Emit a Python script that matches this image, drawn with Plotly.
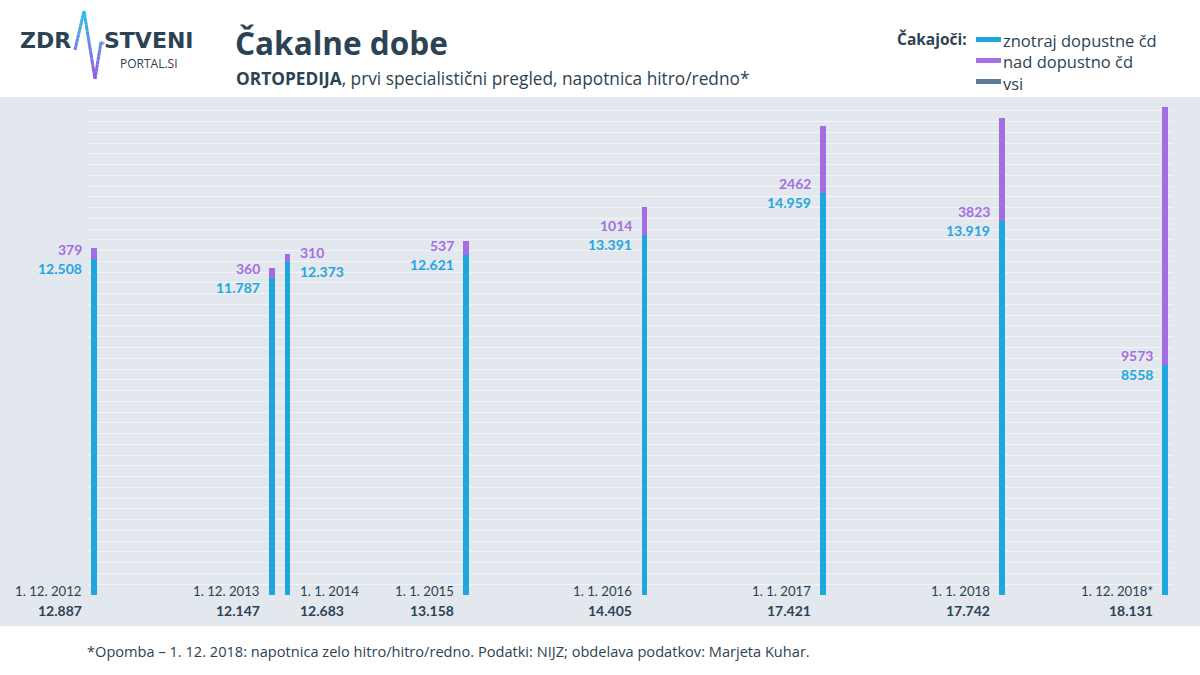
import plotly.graph_objects as go

# ---- data ----
dates = ["2012-12-01", "2013-12-01", "2014-01-01", "2015-01-01",
         "2016-01-01", "2017-01-01", "2018-01-01", "2018-12-01"]
date_labels = ["1. 12. 2012", "1. 12. 2013", "1. 1. 2014", "1. 1. 2015",
               "1. 1. 2016", "1. 1. 2017", "1. 1. 2018", "1. 12. 2018*"]
within = [12508, 11787, 12373, 12621, 13391, 14959, 13919, 8558]
over = [379, 360, 310, 537, 1014, 2462, 3823, 9573]
label_right = [False, False, True, False, False, False, False, False]
legend_names = ["znotraj dopustne čd", "nad dopustno čd", "vsi"]

CYAN = "#1fa6de"
PURPLE = "#a56de2"
VSI = "#5b7b98"
DARK = "#2c4354"
BAND = "#e3e8ee"
GRID = "#f2f4f7"
FONT = "Lato"
HFONT = "Open Sans"
LFONT = "DejaVu Sans"

# plot area in pixels
L, R, T, B = 88, 1173, 100, 595
W, H = 1200, 675


def px(x):
    return (x - L) / (R - L)


def py(y):
    return (B - y) / (B - T)


def fmt(v):
    s = str(v)
    if v >= 10000:
        s = s[:-3] + "." + s[-3:]
    return s


totals = [a + b for a, b in zip(within, over)]

fig = go.Figure()
bar_w = 12 * 86400000
fig.add_trace(go.Bar(x=dates, y=within, marker_color=CYAN, width=bar_w,
                     marker_line_width=0, name=legend_names[0], showlegend=False))
fig.add_trace(go.Bar(x=dates, y=over, marker_color=PURPLE, width=bar_w,
                     marker_line_width=0, name=legend_names[1], showlegend=False))

ann = []
for d, dl, w, o, t, right in zip(dates, date_labels, within, over, totals, label_right):
    xa = "left" if right else "right"
    xs = 11 if right else -11
    ann.append(dict(x=d, y=w, xref="x", yref="y", text=f"<b>{fmt(o)}</b>",
                    xanchor=xa, yanchor="bottom", xshift=xs, yshift=0, borderpad=0,
                    showarrow=False, font=dict(family=FONT, size=14, color=PURPLE)))
    ann.append(dict(x=d, y=w, xref="x", yref="y", text=f"<b>{fmt(w)}</b>",
                    xanchor=xa, yanchor="top", xshift=xs, yshift=0, borderpad=0,
                    showarrow=False, font=dict(family=FONT, size=14, color=CYAN)))
    ann.append(dict(x=d, y=0, xref="x", yref="y", text=dl,
                    xanchor=xa, yanchor="middle", xshift=xs, yshift=4, borderpad=0,
                    showarrow=False, font=dict(family=FONT, size=13.2, color=DARK)))
    ann.append(dict(x=d, y=0, xref="x", yref="y", text=f"<b>{fmt(t)}</b>",
                    xanchor=xa, yanchor="middle", xshift=xs, yshift=-15, borderpad=0,
                    showarrow=False, font=dict(family=FONT, size=14, color=DARK)))

# header texts
ann.append(dict(x=px(234), y=py(43), xref="paper", yref="paper", text="<b>Čakalne dobe</b>",
                xanchor="left", yanchor="middle", showarrow=False, borderpad=0,
                font=dict(family=HFONT, size=31.5, color=DARK)))
ann.append(dict(x=px(235), y=py(79), xref="paper", yref="paper",
                text="<b>ORTOPEDIJA</b>, prvi specialistični pregled, napotnica hitro/redno*",
                xanchor="left", yanchor="middle", showarrow=False, borderpad=0,
                font=dict(family=HFONT, size=17.3, color=DARK)))
# logo texts
ann.append(dict(x=px(19), y=py(41), xref="paper", yref="paper", text="<b>ZDR</b>",
                xanchor="left", yanchor="middle", showarrow=False, borderpad=0,
                font=dict(family=LFONT, size=22, color=DARK)))
ann.append(dict(x=px(103), y=py(41), xref="paper", yref="paper", text="<b>STVENI</b>",
                xanchor="left", yanchor="middle", showarrow=False, borderpad=0,
                font=dict(family=LFONT, size=22, color=DARK)))
ann.append(dict(x=px(119), y=py(64), xref="paper", yref="paper", text="PORTAL.SI",
                xanchor="left", yanchor="middle", showarrow=False, borderpad=0,
                font=dict(family=HFONT, size=12, color=DARK)))
# legend
ann.append(dict(x=px(968), y=py(39), xref="paper", yref="paper", text="<b>Čakajoči:</b>",
                xanchor="right", yanchor="middle", showarrow=False, borderpad=0,
                font=dict(family=HFONT, size=15.5, color=DARK)))
ann.append(dict(x=px(1002), y=py(28), xref="paper", yref="paper",
                text="<br>".join(legend_names), align="left",
                xanchor="left", yanchor="top", showarrow=False, borderpad=0,
                font=dict(family=HFONT, size=16.5, color=DARK)))
shapes = []
for col, yy in zip([CYAN, PURPLE, VSI], [39, 60, 81]):
    shapes.append(dict(type="rect", xref="paper", yref="paper", x0=px(976), x1=px(1001),
                       y0=py(yy + 3), y1=py(yy - 2), fillcolor=col, line_width=0))
# footer
ann.append(dict(x=px(86), y=py(651), xref="paper", yref="paper",
                text="*Opomba – 1. 12. 2018: napotnica zelo hitro/hitro/redno. Podatki: NIJZ; obdelava podatkov: Marjeta Kuhar.",
                xanchor="left", yanchor="middle", showarrow=False, borderpad=0,
                font=dict(family=HFONT, size=14.6, color=DARK)))

# grey band
shapes.append(dict(type="rect", xref="paper", yref="paper", x0=px(0), x1=px(W),
                   y0=py(626), y1=py(97), fillcolor=BAND, line_width=0, layer="below"))

# logo heartbeat with gradient
pts = [(75, 50), (84, 11), (95, 79), (101, 42), (104, 44)]


def mix(c1, c2, t):
    a = [int(c1[i:i + 2], 16) for i in (1, 3, 5)]
    b = [int(c2[i:i + 2], 16) for i in (1, 3, 5)]
    return "#" + "".join(f"{round(a[k] + (b[k] - a[k]) * t):02x}" for k in range(3))


n = 10
for (x0, y0), (x1, y1) in zip(pts[:-1], pts[1:]):
    for k in range(n):
        ta, tb = k / n, (k + 1) / n
        xa, ya = x0 + (x1 - x0) * ta, y0 + (y1 - y0) * ta
        xb, yb = x0 + (x1 - x0) * tb, y0 + (y1 - y0) * tb
        tcol = min(max(((ya + yb) / 2 - 11) / 68, 0), 1)
        shapes.append(dict(type="line", xref="paper", yref="paper",
                           x0=px(xa), y0=py(ya), x1=px(xb), y1=py(yb),
                           line=dict(color=mix("#29c0e8", "#9a55e6", tcol), width=3)))

fig.update_layout(
    width=W, height=H,
    margin=dict(l=L, r=W - R, t=T, b=H - B),
    paper_bgcolor="white", plot_bgcolor="rgba(0,0,0,0)",
    barmode="stack", bargap=0,
    showlegend=False,
    xaxis=dict(type="date", range=["2012-11-19", "2018-12-17"], showgrid=False,
               showticklabels=False, zeroline=False, showline=False, ticks=""),
    yaxis=dict(range=[0, 18400], dtick=400, showgrid=True, gridcolor=GRID, gridwidth=1,
               showticklabels=False, zeroline=False, showline=False, ticks=""),
    annotations=ann, shapes=shapes,
)

fig.write_html("out.html")
